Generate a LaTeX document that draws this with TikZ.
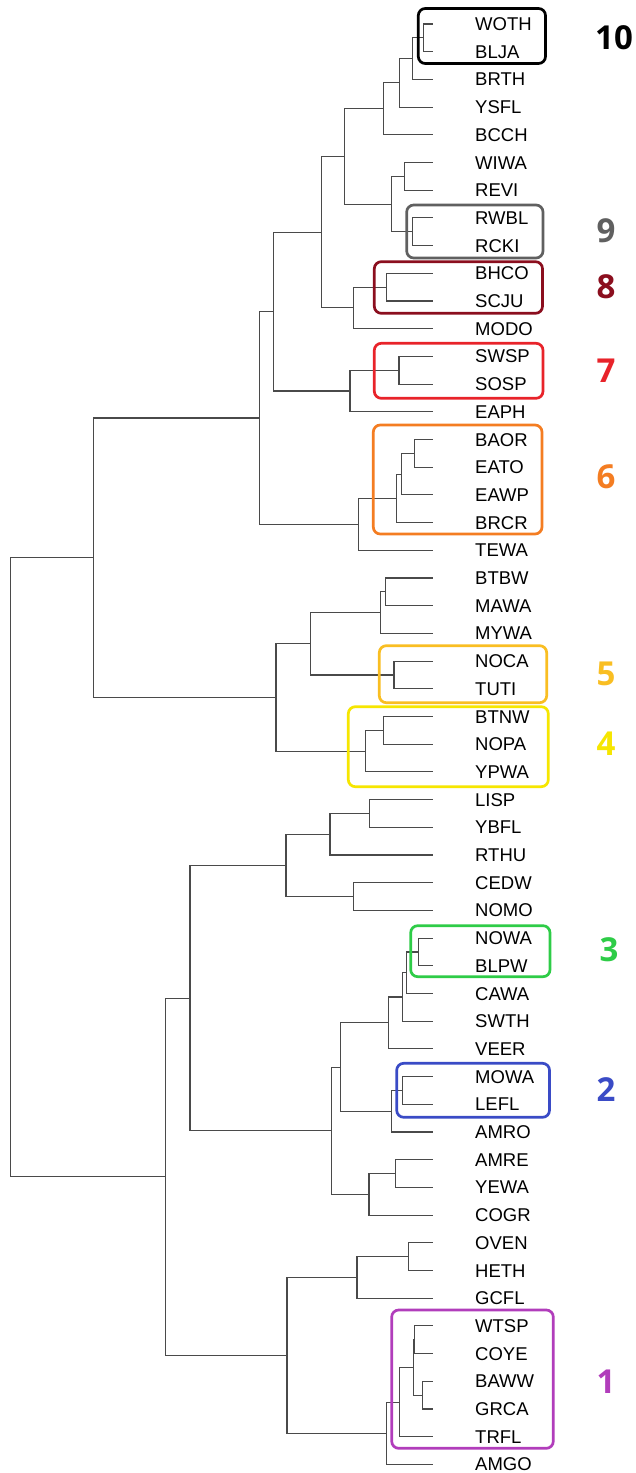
\documentclass[tikz,border=0pt]{standalone}
\usepackage{fontspec}
\setmainfont{Liberation Sans}
\newfontfamily\numfont{Open Sans}
\usetikzlibrary{calc}
\definecolor{treegray}{HTML}{4A4A4A}
\definecolor{cten}{HTML}{000000}
\definecolor{cnine}{HTML}{606060}
\definecolor{ceight}{HTML}{8B0E1E}
\definecolor{cseven}{HTML}{E8232A}
\definecolor{csix}{HTML}{F47D22}
\definecolor{cfive}{HTML}{F9BE22}
\definecolor{cfour}{HTML}{F6E600}
\definecolor{cthree}{HTML}{2ECC47}
\definecolor{ctwo}{HTML}{3A4BC6}
\definecolor{cone}{HTML}{B13DBB}
\newcommand\mkleaf[2]{%
  \node[leaflabel] (#1) at (475,{24+27.7*#2}) {#1};
  \coordinate (#1e) at (432.7,{24+27.7*#2});}
\newcommand\mkjoin[4]{%
  \path (#3) -- (#4) coordinate[pos=0.5] (#1m);
  \coordinate (#1) at (#2,0 |- #1m);
  \draw[br] (#3) -| (#1) |- (#4);}
\begin{document}
\begin{tikzpicture}[x=1pt,y=-1pt,
  br/.style={draw=treegray,line width=1.1pt},
  leaflabel/.style={anchor=west,inner sep=0pt,text height=13pt,text depth=0pt,font=\fontsize{18.5}{20}\selectfont},
  numlabel/.style={anchor=center,inner sep=0pt,text height=23.6pt,text depth=0pt,font=\numfont\bfseries\fontsize{33}{36}\selectfont},
  grpbox/.style={line width=2.7pt,rounded corners=7pt}]
\fill[white] (0,0) rectangle (635,1473);
\useasboundingbox (0,0) rectangle (635,1473);
% leaves
\mkleaf{WOTH}{0}\mkleaf{BLJA}{1}\mkleaf{BRTH}{2}\mkleaf{YSFL}{3}\mkleaf{BCCH}{4}
\mkleaf{WIWA}{5}\mkleaf{REVI}{6}\mkleaf{RWBL}{7}\mkleaf{RCKI}{8}\mkleaf{BHCO}{9}
\mkleaf{SCJU}{10}\mkleaf{MODO}{11}\mkleaf{SWSP}{12}\mkleaf{SOSP}{13}\mkleaf{EAPH}{14}
\mkleaf{BAOR}{15}\mkleaf{EATO}{16}\mkleaf{EAWP}{17}\mkleaf{BRCR}{18}\mkleaf{TEWA}{19}
\mkleaf{BTBW}{20}\mkleaf{MAWA}{21}\mkleaf{MYWA}{22}\mkleaf{NOCA}{23}\mkleaf{TUTI}{24}
\mkleaf{BTNW}{25}\mkleaf{NOPA}{26}\mkleaf{YPWA}{27}\mkleaf{LISP}{28}\mkleaf{YBFL}{29}
\mkleaf{RTHU}{30}\mkleaf{CEDW}{31}\mkleaf{NOMO}{32}\mkleaf{NOWA}{33}\mkleaf{BLPW}{34}
\mkleaf{CAWA}{35}\mkleaf{SWTH}{36}\mkleaf{VEER}{37}\mkleaf{MOWA}{38}\mkleaf{LEFL}{39}
\mkleaf{AMRO}{40}\mkleaf{AMRE}{41}\mkleaf{YEWA}{42}\mkleaf{COGR}{43}\mkleaf{OVEN}{44}
\mkleaf{HETH}{45}\mkleaf{GCFL}{46}\mkleaf{WTSP}{47}\mkleaf{COYE}{48}\mkleaf{BAWW}{49}
\mkleaf{GRCA}{50}\mkleaf{TRFL}{51}\mkleaf{AMGO}{52}
% internal joins
\mkjoin{na}{423.3}{WOTHe}{BLJAe}
\mkjoin{nb}{412.3}{na}{BRTHe}
\mkjoin{nc}{399.7}{nb}{YSFLe}
\mkjoin{nd}{383.3}{nc}{BCCHe}
\mkjoin{ne}{404.3}{WIWAe}{REVIe}
\mkjoin{nf}{412.7}{RWBLe}{RCKIe}
\mkjoin{ng}{391.3}{ne}{nf}
\mkjoin{nh}{344.7}{nd}{ng}
\mkjoin{ni}{386.7}{BHCOe}{SCJUe}
\mkjoin{nj}{353.3}{ni}{MODOe}
\mkjoin{nk}{321.7}{nh}{nj}
\mkjoin{nl}{399}{SWSPe}{SOSPe}
\mkjoin{nm}{350}{nl}{EAPHe}
\mkjoin{nn}{273.3}{nk}{nm}
\mkjoin{no}{414.3}{BAORe}{EATOe}
\mkjoin{np}{401.7}{no}{EAWPe}
\mkjoin{nq}{396.7}{np}{BRCRe}
\mkjoin{nr}{358.3}{nq}{TEWAe}
\mkjoin{ns}{259.3}{nn}{nr}
\mkjoin{nt}{385.3}{BTBWe}{MAWAe}
\mkjoin{nu}{380.3}{nt}{MYWAe}
\mkjoin{nv}{394}{NOCAe}{TUTIe}
\mkjoin{nw}{310.7}{nu}{nv}
\mkjoin{nx}{383.3}{BTNWe}{NOPAe}
\mkjoin{ny}{365.7}{nx}{YPWAe}
\mkjoin{nz}{276}{nw}{ny}
\mkjoin{upper}{93.3}{ns}{nz}
\mkjoin{pa}{369.3}{LISPe}{YBFLe}
\mkjoin{pb}{330}{pa}{RTHUe}
\mkjoin{pc}{353.7}{CEDWe}{NOMOe}
\mkjoin{pd}{286}{pb}{pc}
\mkjoin{pe}{418.3}{NOWAe}{BLPWe}
\mkjoin{pf}{406.7}{pe}{CAWAe}
\mkjoin{pg}{402.3}{pf}{SWTHe}
\mkjoin{ph}{388.3}{pg}{VEERe}
\mkjoin{pi}{402.3}{MOWAe}{LEFLe}
\mkjoin{pj}{391.7}{pi}{AMROe}
\mkjoin{pk}{340.7}{ph}{pj}
\mkjoin{pl}{395.7}{AMREe}{YEWAe}
\mkjoin{pm}{369}{pl}{COGRe}
\mkjoin{pn}{331.7}{pk}{pm}
\mkjoin{po}{190}{pd}{pn}
\mkjoin{pp}{408.3}{OVENe}{HETHe}
\mkjoin{pq}{357}{pp}{GCFLe}
\mkjoin{pr}{414.7}{WTSPe}{COYEe}
\mkjoin{ps}{422.3}{BAWWe}{GRCAe}
\mkjoin{pt}{413.3}{pr}{ps}
\mkjoin{pu}{399.3}{pt}{TRFLe}
\mkjoin{pv}{386.3}{pu}{AMGOe}
\mkjoin{pw}{287}{pq}{pv}
\mkjoin{lower}{165.7}{po}{pw}
\mkjoin{root}{10.7}{upper}{lower}
% group boxes
\draw[grpbox,draw=cten]   (418.3,8.5)   rectangle (545.5,63.5);
\draw[grpbox,draw=cnine]  (406.7,205)   rectangle (543,258);
\draw[grpbox,draw=ceight] (374.3,261.7) rectangle (542.5,313.3);
\draw[grpbox,draw=cseven] (374.3,343.3) rectangle (543,398.3);
\draw[grpbox,draw=csix]   (373.3,425)   rectangle (542,534);
\draw[grpbox,draw=cfive]  (379.3,645.7) rectangle (546.7,702.7);
\draw[grpbox,draw=cfour]  (348.3,706.7) rectangle (548.3,786.7);
\draw[grpbox,draw=cthree] (410.7,925.7) rectangle (550,976.7);
\draw[grpbox,draw=ctwo]   (396.7,1063.3) rectangle (549.5,1117.3);
\draw[grpbox,draw=cone]   (391.7,1310)  rectangle (553.3,1448.3);
% group numbers
\node[numlabel,text=cten]   (g10) at (614,38)   {10};
\node[numlabel,text=cnine]  (g9)  at (606,231)  {9};
\node[numlabel,text=ceight] (g8)  at (606,287)  {8};
\node[numlabel,text=cseven] (g7)  at (606,371)  {7};
\node[numlabel,text=csix]   (g6)  at (606,477)  {6};
\node[numlabel,text=cfive]  (g5)  at (606,674)  {5};
\node[numlabel,text=cfour]  (g4)  at (606,744)  {4};
\node[numlabel,text=cthree] (g3)  at (609,950)  {3};
\node[numlabel,text=ctwo]   (g2)  at (606,1090) {2};
\node[numlabel,text=cone]   (g1)  at (606,1382) {1};
\end{tikzpicture}
\end{document}
